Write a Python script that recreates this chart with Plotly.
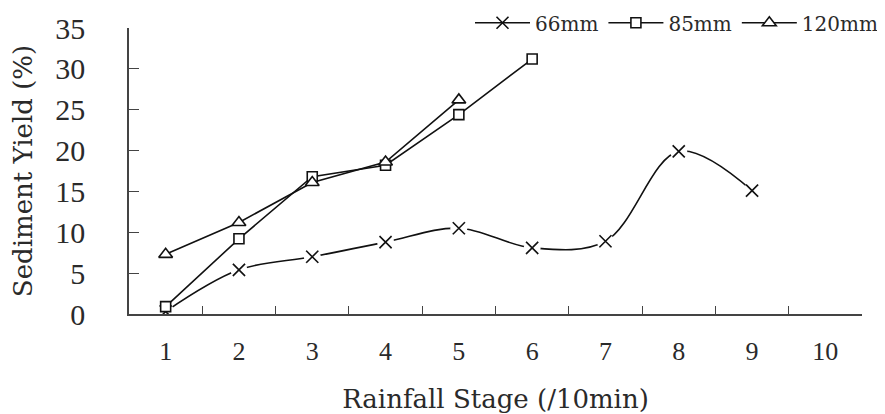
import plotly.graph_objects as go

stages = ["1", "2", "3", "4", "5", "6", "7", "8", "9", "10"]
y66 = [0.3, 5.4, 7.0, 8.8, 10.5, 8.1, 8.9, 19.9, 15.1]
y85 = [0.9, 9.2, 16.8, 18.2, 24.4, 31.2]
y120 = [7.3, 11.2, 16.1, 18.6, 26.2]
names = ["66mm", "85mm", "120mm"]

INK = "#111111"
TXT = "#2a2a2a"
SERIF = "DejaVu Serif"
# the page body has an 8px margin, so the figure is 8px smaller to fill the window
W, H = 877, 406
fig = go.Figure()

fig.add_trace(go.Scatter(
    x=stages[:len(y66)], y=y66, name=names[0], mode="lines+markers",
    line=dict(color=INK, width=1.6, shape="spline", smoothing=1.0),
    marker=dict(symbol="x-thin", size=12, line=dict(color=INK, width=1.6), color=INK),
))
fig.add_trace(go.Scatter(
    x=stages[:len(y66)], y=y66, mode="markers", showlegend=False, hoverinfo="skip",
    marker=dict(symbol="circle", size=17, color="white", line=dict(width=0)),
))
fig.add_trace(go.Scatter(
    x=stages[:len(y66)], y=y66, mode="markers", showlegend=False, hoverinfo="skip",
    marker=dict(symbol="x-thin", size=12, line=dict(color=INK, width=1.6), color=INK),
))
fig.add_trace(go.Scatter(
    x=stages[:len(y85)], y=y85, name=names[1], mode="lines+markers",
    line=dict(color=INK, width=1.6),
    marker=dict(symbol="square", size=10, color="white", line=dict(color=INK, width=1.6)),
))
fig.add_trace(go.Scatter(
    x=stages[:len(y120)], y=y120, name=names[2], mode="lines+markers",
    line=dict(color=INK, width=1.6),
    marker=dict(symbol="triangle-up", size=12, color="white", line=dict(color=INK, width=1.6)),
))

fig.update_layout(
    width=W, height=H,
    margin=dict(l=120.5, r=22.7, t=20.3, b=100, autoexpand=False),
    paper_bgcolor="white", plot_bgcolor="white",
    font=dict(family=SERIF, color=TXT),
    showlegend=True,
    legend=dict(
        orientation="h", xref="container", yref="container",
        x=1 - 2 / W, xanchor="right", y=1 - 14.7 / H, yanchor="middle",
        font=dict(family=SERIF, size=20, color=TXT),
        itemwidth=55, bgcolor="rgba(0,0,0,0)", traceorder="normal",
    ),
    xaxis=dict(
        type="category", categoryorder="array", categoryarray=stages,
        range=[-0.5, 9.5], tickson="boundaries", ticks="inside", ticklen=8,
        tickwidth=1.3, tickcolor="#444444", showline=True, linecolor="#444444",
        linewidth=1.5, showgrid=False, zeroline=False,
        tickfont=dict(family="Liberation Serif", size=26, color=TXT),
        ticklabelstandoff=13,
        title=dict(text="Rainfall Stage (/10min)", standoff=28,
                   font=dict(family=SERIF, size=26, color=TXT)),
    ),
    yaxis=dict(
        range=[0, 35], dtick=5, ticks="inside", ticklen=10, tickwidth=1.3,
        tickcolor="#444444", showline=True, linecolor="#444444", linewidth=1.5,
        showgrid=False, zeroline=False,
        tickfont=dict(family="Liberation Serif", size=30, color=TXT),
        ticklabelstandoff=36,
        title=dict(text="Sediment Yield (%)", standoff=20,
                   font=dict(family=SERIF, size=26, color=TXT)),
    ),
)

fig.write_html("out.html")
